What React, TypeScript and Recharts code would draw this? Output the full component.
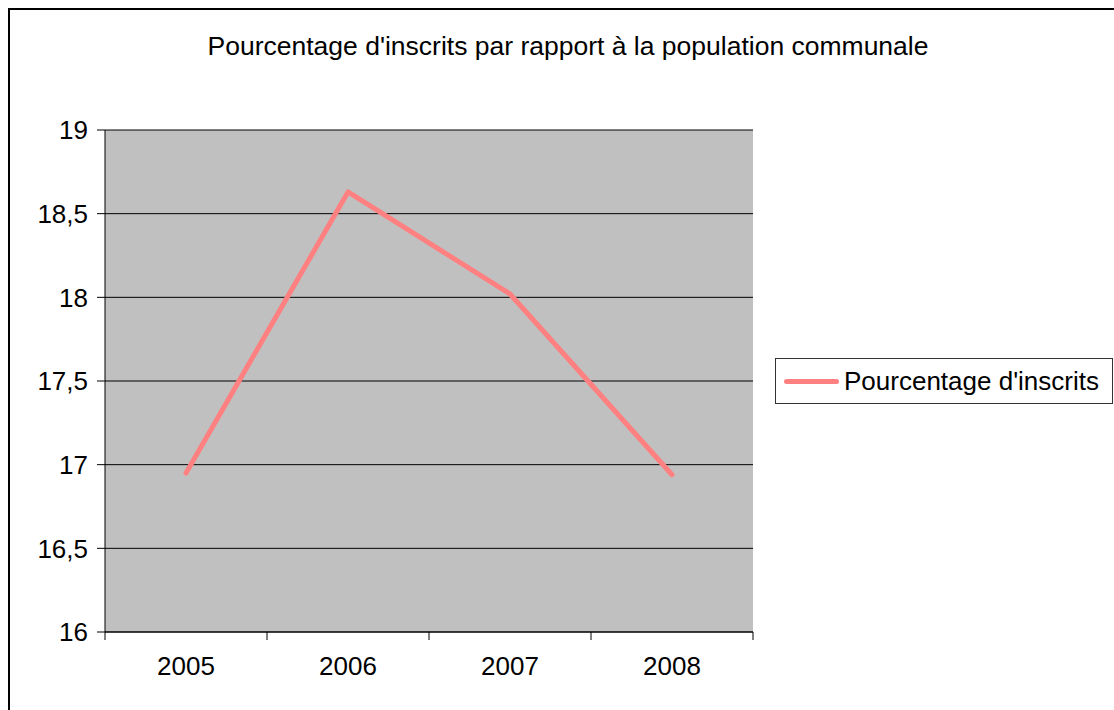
import React from 'react';
import { LineChart, Line, XAxis, YAxis, CartesianGrid, Legend } from 'recharts';

const years = ['2005', '2006', '2007', '2008'];
const inscrits = [16.95, 18.63, 18.02, 16.94];
const yTicks = [16, 16.5, 17, 17.5, 18, 18.5, 19];

const data = years.map((year, i) => ({ year, pct: inscrits[i] }));

const FONT = '"Liberation Sans", Arial, sans-serif';
const FS = 26;

// category label with tick marks on the band boundaries (Excel style)
const YearTick = (props: any) => {
  const { x, y, payload, index } = props;
  const off = payload && payload.offset ? payload.offset : 81;
  const last = index === years.length - 1;
  return (
    <g>
      <line x1={x - off} y1={y} x2={x - off} y2={y + 8} stroke="#000" />
      {last && <line x1={x + off} y1={y} x2={x + off} y2={y + 8} stroke="#000" />}
      <text x={x} y={y + 25} dy="0.71em" textAnchor="middle" fill="#000" fontSize={FS} fontFamily={FONT}>
        {payload.value}
      </text>
    </g>
  );
};

const LegendBox = () => (
  <div
    style={{
      border: '1px solid #333',
      width: 338,
      height: 46,
      boxSizing: 'border-box',
      display: 'flex',
      alignItems: 'center',
      background: '#fff',
      fontFamily: FONT,
      fontSize: FS,
      whiteSpace: 'nowrap',
    }}
  >
    <div style={{ width: 55, height: 5, borderRadius: 3, background: '#FF8080', marginLeft: 8, marginRight: 5 }} />
    <span>Pourcentage d'inscrits</span>
  </div>
);

const App: React.FC = () => {
  return (
    <div style={{ position: 'absolute', left: 0, top: 0, width: 1114, height: 710, overflow: 'hidden', background: '#fff' }}>
      <div
        style={{
          position: 'absolute',
          left: 8,
          top: 8,
          width: 1130,
          height: 730,
          border: '2px solid #000',
          boxSizing: 'border-box',
        }}
      />
      <div
        style={{
          position: 'absolute',
          left: 0,
          top: 31,
          width: 1136,
          textAlign: 'center',
          fontFamily: FONT,
          fontSize: 26.5,
          color: '#000',
        }}
      >
        Pourcentage d'inscrits par rapport à la population communale
      </div>
      <div style={{ position: 'absolute', left: 0, top: 0 }}>
        <LineChart width={1114} height={710} data={data} margin={{ top: 130, left: 45, right: 361, bottom: 38 }}>
          <CartesianGrid vertical={false} fill="#C0C0C0" stroke="#000" strokeOpacity={1} />
          <XAxis
            dataKey="year"
            scale="band"
            height={40}
            stroke="#000"
            tickLine={false}
            tickSize={0}
            tickMargin={0}
            interval={0}
            tick={<YearTick />}
          />
          <XAxis xAxisId="top" orientation="top" height={0} tick={false} tickLine={false} stroke="#808080" dataKey="year" />
          <YAxis
            domain={[16, 19]}
            ticks={yTicks}
            width={60}
            tickSize={8}
            tickMargin={9}
            stroke="#000"
            tick={{ fill: '#000', fontSize: FS, fontFamily: FONT }}
            tickFormatter={(v: number) => String(v).replace('.', ',')}
            allowDataOverflow
          />
          <YAxis
            yAxisId="right"
            orientation="right"
            width={0}
            tick={false}
            tickLine={false}
            stroke="#808080"
            domain={[16, 19]}
          />
          <Legend
            layout="vertical"
            align="center"
            verticalAlign="middle"
            wrapperStyle={{ left: 775, top: 358, width: 338 }}
            content={() => <LegendBox />}
          />
          <Line
            type="linear"
            dataKey="pct"
            name="Pourcentage d'inscrits"
            stroke="#FF8080"
            strokeWidth={5}
            strokeLinecap="round"
            strokeLinejoin="round"
            dot={false}
            activeDot={false}
            isAnimationActive={false}
          />
        </LineChart>
      </div>
    </div>
  );
};

export default App;
